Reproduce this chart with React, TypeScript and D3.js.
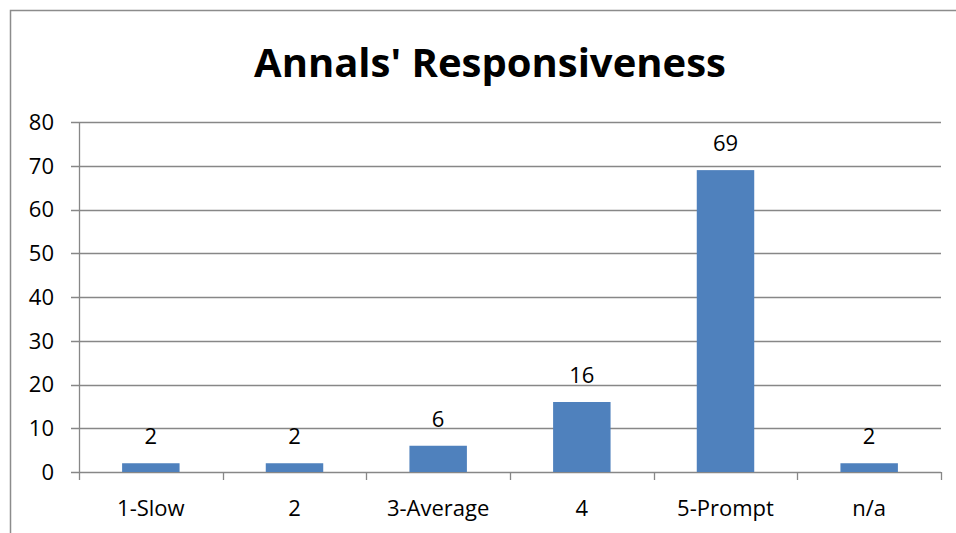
import React, { useRef, useEffect } from "react";
import * as d3 from "d3";

const categories = ["1-Slow", "2", "3-Average", "4", "5-Prompt", "n/a"];
const counts = [2, 2, 6, 16, 69, 2];
const yTicks = [0, 10, 20, 30, 40, 50, 60, 70, 80];
const title = "Annals' Responsiveness";

const App = () => {
  const svgRef = useRef<SVGSVGElement>(null);

  useEffect(() => {
    const svg = d3.select(svgRef.current);
    svg.selectAll("*").remove();
    const width = 956;
    const height = 533;
    const margin = { top: 122, right: 15, bottom: 61, left: 79 };
    const font = "'Open Sans', 'Noto Sans', sans-serif";
    const grid = "#878787";

    // outer frame (cut off on right and bottom)
    svg
      .append("path")
      .attr("d", `M10.5,${height + 2} V10.5 H${width + 2}`)
      .attr("fill", "none")
      .attr("stroke", "#8c8c8c")
      .attr("stroke-width", 1.5);

    svg
      .append("text")
      .attr("x", 490)
      .attr("y", 77)
      .attr("text-anchor", "middle")
      .style("font-family", font)
      .style("font-weight", "bold")
      .style("font-size", "40px")
      .text(title);

    const x = d3
      .scaleBand()
      .domain(categories)
      .range([margin.left, width - margin.right])
      .paddingInner(0.6)
      .paddingOuter(0.3);

    const y = d3
      .scaleLinear()
      .domain([0, 80])
      .range([height - margin.bottom, margin.top]);

    const step = x.step();
    const x0 = margin.left;
    const x1 = width - margin.right;

    // gridlines
    svg
      .append("g")
      .selectAll("line")
      .data(yTicks)
      .enter()
      .append("line")
      .attr("x1", x0 - 8)
      .attr("x2", x1)
      .attr("y1", (d) => Math.round(y(d)) + 0.5)
      .attr("y2", (d) => Math.round(y(d)) + 0.5)
      .attr("stroke", grid)
      .attr("stroke-width", 1.3);

    // y axis line
    svg
      .append("line")
      .attr("x1", x0 + 0.5)
      .attr("x2", x0 + 0.5)
      .attr("y1", y(80))
      .attr("y2", y(0) + 8)
      .attr("stroke", grid)
      .attr("stroke-width", 1.3);

    // x ticks
    svg
      .append("g")
      .selectAll("line")
      .data(d3.range(1, categories.length + 1))
      .enter()
      .append("line")
      .attr("x1", (i) => Math.round(x0 + i * step) + 0.5)
      .attr("x2", (i) => Math.round(x0 + i * step) + 0.5)
      .attr("y1", y(0))
      .attr("y2", y(0) + 8)
      .attr("stroke", grid)
      .attr("stroke-width", 1.3);

    // y labels
    svg
      .append("g")
      .selectAll("text")
      .data(yTicks)
      .enter()
      .append("text")
      .attr("x", 54)
      .attr("y", (d) => y(d))
      .attr("dy", "0.36em")
      .attr("text-anchor", "end")
      .style("font-family", font)
      .style("font-size", "22px")
      .text((d) => d);

    // bars
    svg
      .append("g")
      .selectAll("rect")
      .data(counts)
      .enter()
      .append("rect")
      .attr("x", (d, i) => x(categories[i])!)
      .attr("y", (d) => y(d))
      .attr("width", x.bandwidth())
      .attr("height", (d) => y(0) - y(d))
      .attr("fill", "#4F81BD");

    // value labels
    svg
      .append("g")
      .selectAll("text")
      .data(counts)
      .enter()
      .append("text")
      .attr("x", (d, i) => x(categories[i])! + x.bandwidth() / 2)
      .attr("y", (d) => y(d) - 19)
      .attr("text-anchor", "middle")
      .style("font-family", font)
      .style("font-size", "22px")
      .text((d) => d);

    // category labels
    svg
      .append("g")
      .selectAll("text")
      .data(categories)
      .enter()
      .append("text")
      .attr("x", (d) => x(d)! + x.bandwidth() / 2)
      .attr("y", 516)
      .attr("text-anchor", "middle")
      .style("font-family", font)
      .style("font-size", "22px")
      .text((d) => d);
  }, []);

  return (
    <svg
      ref={svgRef}
      width={956}
      height={533}
      style={{ position: "absolute", left: 0, top: 0, background: "#fff" }}
    />
  );
};

export default App;
